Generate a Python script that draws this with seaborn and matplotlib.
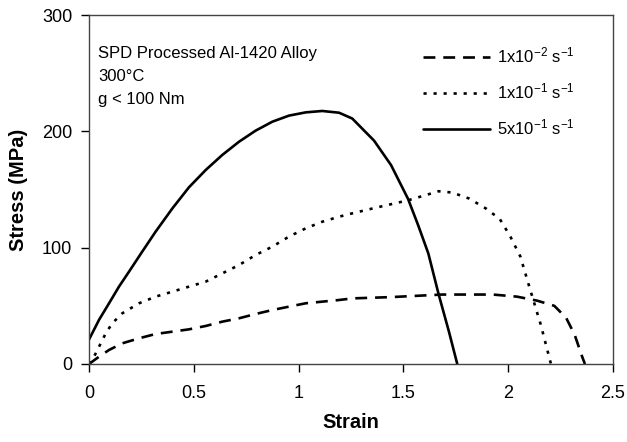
import numpy as np
import pandas as pd
import matplotlib
matplotlib.use('Agg')
import matplotlib.pyplot as plt
import seaborn as sns

# strain / stress
strain_slow = [0, 0.048, 0.095, 0.159, 0.239, 0.318, 0.398, 0.477, 0.557, 0.636, 0.716, 0.795,
               0.875, 0.954, 1.034, 1.113, 1.193, 1.256, 1.441, 1.684, 1.927, 2.042, 2.139,
               2.22, 2.276, 2.317, 2.35, 2.366]
stress_slow = [0, 6.3, 12, 17.8, 22.1, 25.8, 27.8, 29.8, 32.7, 36.4, 39.3, 43,
               46.4, 49.3, 52.2, 53.6, 55, 56.4, 57.5, 59.7, 59.7, 57.9, 54.4,
               50, 39.8, 25.2, 7.7, 0]

strain_mid = [0, 0.024, 0.048, 0.08, 0.111, 0.159, 0.239, 0.318, 0.398, 0.477, 0.557, 0.636,
              0.716, 0.795, 0.875, 0.954, 1.034, 1.113, 1.193, 1.256, 1.36, 1.522, 1.603,
              1.668, 1.733, 1.814, 1.896, 1.96, 2.009, 2.058, 2.106, 2.155, 2.204]
stress_mid = [0, 6.3, 14.9, 26.4, 35, 43.6, 52.2, 57.9, 62.2, 66.5, 70.8, 77.9,
              85.1, 93.7, 100.9, 109.5, 116.6, 122.3, 126.6, 129.5, 134, 140.7, 145,
              148.5, 147.4, 142.2, 133.4, 124.6, 110, 92.4, 63.2, 34, 0]

strain_fast = [0, 0.048, 0.095, 0.143, 0.191, 0.254, 0.318, 0.398, 0.477, 0.557, 0.636, 0.716,
               0.795, 0.875, 0.954, 1.034, 1.113, 1.193, 1.256, 1.36, 1.441, 1.522, 1.571,
               1.619, 1.668, 1.717, 1.757]
stress_fast = [21, 38, 52, 66.5, 79.4, 96.6, 113.8, 133.8, 151.9, 166.8, 179.7, 191.1,
               200.6, 208.3, 213.5, 216.3, 217.5, 216, 211, 192, 171, 142, 119,
               95, 60, 28, 0]

rate_labels = [r'1x10$^{-2}$ s$^{-1}$', r'1x10$^{-1}$ s$^{-1}$', r'5x10$^{-1}$ s$^{-1}$']
notes = ['SPD Processed Al-1420 Alloy', '300°C', 'g < 100 Nm']

sns.set_style('ticks')
plt.rcParams['font.family'] = ['Liberation Sans', 'DejaVu Sans']
plt.rcParams['mathtext.fontset'] = 'custom'
plt.rcParams['mathtext.rm'] = 'Liberation Sans'
plt.rcParams['mathtext.it'] = 'Liberation Sans'
for key in ['text.color', 'axes.labelcolor', 'xtick.color', 'ytick.color']:
    plt.rcParams[key] = 'black'

fig = plt.figure(figsize=(6.27, 4.42), dpi=100)
ax = fig.add_axes([89 / 627, 1 - 364 / 442, 524 / 627, 349 / 442])

curves = [(strain_slow, stress_slow, (0, (4.5, 3.0))),
          (strain_mid, stress_mid, (0, (1.2, 2.6))),
          (strain_fast, stress_fast, '-')]
for (xs, ys, ls), lab in zip(curves, rate_labels):
    df = pd.DataFrame({'Strain': xs, 'Stress': ys})
    sns.lineplot(data=df, x='Strain', y='Stress', ax=ax, color='black',
                 linewidth=1.9, linestyle=ls, sort=False, estimator=None, label=lab)

ax.set_xlim(0, 2.5)
ax.set_ylim(0, 300)
ax.set_xticks([0, 0.5, 1, 1.5, 2, 2.5])
ax.set_xticklabels(['0', '0.5', '1', '1.5', '2', '2.5'])
ax.set_yticks([0, 100, 200, 300])
ax.tick_params(direction='out', length=6, width=1, labelsize=13, pad=6)
ax.tick_params(axis='x', pad=9)
for sp in ax.spines.values():
    sp.set_linewidth(1.0)
    sp.set_color('#444444')

ax.set_xlabel('Strain', fontsize=14.5, fontweight='bold', labelpad=8)
ax.set_ylabel('Stress (MPa)', fontsize=14.5, fontweight='bold', labelpad=10)

for note, yf in zip(notes, [0.877, 0.811, 0.745]):
    ax.text(0.017, yf, note, transform=ax.transAxes, fontsize=12, va='baseline', ha='left')

leg = ax.legend(loc='upper left', bbox_to_anchor=((423 - 89) / 524, (364 - 46) / 349),
                frameon=False, fontsize=12, handlelength=4.0, handletextpad=0.45,
                labelspacing=0.95, borderaxespad=0, borderpad=0)

fig.savefig('out.png', dpi=100)
